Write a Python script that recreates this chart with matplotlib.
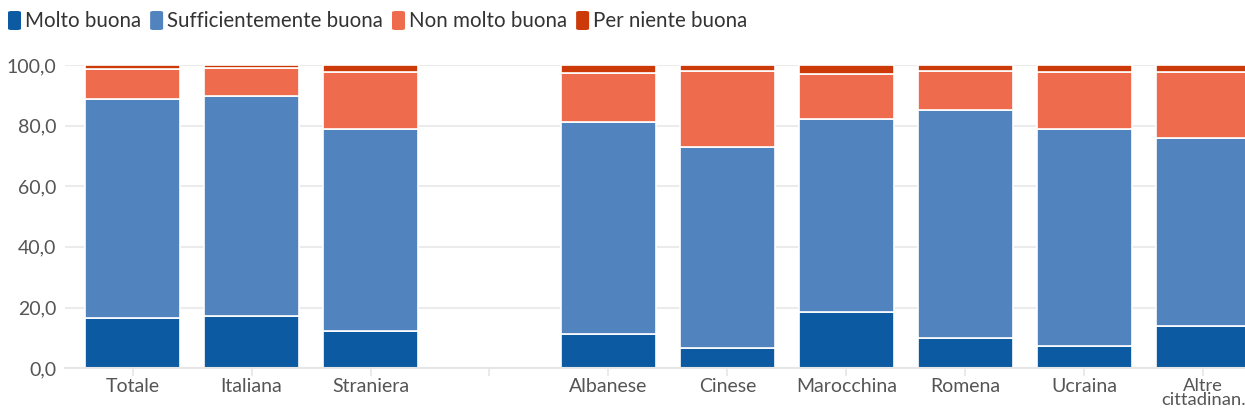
import matplotlib
matplotlib.use("Agg")
import matplotlib.pyplot as plt
import numpy as np
from matplotlib.patches import FancyBboxPatch

plt.rcParams["font.family"] = ["Lato", "DejaVu Sans"]

# Data (percentages), an empty slot separates the totals from the nationalities
categories = ["Totale", "Italiana", "Straniera", "",
              "Albanese", "Cinese", "Marocchina", "Romena", "Ucraina", "Altre\ncittadinan."]
molto_buona = [16.7, 17.2, 12.2, 0, 11.4, 6.5, 18.5, 10.0, 7.3, 13.8]
sufficientemente = [72.2, 72.7, 66.6, 0, 69.7, 66.4, 63.5, 75.1, 71.6, 62.0]
non_molto = [9.8, 9.0, 18.8, 0, 16.2, 25.2, 14.9, 12.8, 18.6, 21.7]
per_niente = [1.3, 1.1, 2.4, 0, 2.7, 1.9, 3.1, 2.1, 2.5, 2.5]

series = ["Molto buona", "Sufficientemente buona", "Non molto buona", "Per niente buona"]
colors = ["#0b5aa2", "#5183be", "#ee6c4d", "#cc3a0a"]

fig = plt.figure(figsize=(12.45, 4.16), dpi=100)
ax = fig.add_axes([0.052, 0.115, 0.948, 0.729])

x = np.arange(len(categories))
bottom = np.zeros(len(categories))
for vals, col in zip([molto_buona, sufficientemente, non_molto, per_niente], colors):
    vals = np.array(vals)
    ax.bar(x, vals, 0.8, bottom=bottom, color=col, edgecolor="white", linewidth=1.2, zorder=3)
    bottom += vals

ax.set_xlim(-0.57, 9.35)
ax.set_ylim(0, 100)
ax.set_yticks([0, 20, 40, 60, 80, 100])
ax.set_yticklabels(["0,0", "20,0", "40,0", "60,0", "80,0", "100,0"], fontsize=14, color="#555555")
ax.set_xticks(x)
ax.set_xticklabels(categories, fontsize=14, color="#555555", linespacing=0.82)
ax.tick_params(axis="y", length=0, pad=6)
ax.tick_params(axis="x", length=6, color="#e6e6e6", width=1.2, pad=1)
ax.grid(axis="y", color="#ebebeb", linewidth=1.5, zorder=0)
for s in ["top", "right", "left"]:
    ax.spines[s].set_visible(False)
ax.spines["bottom"].set_color("#e6e6e6")
ax.spines["bottom"].set_linewidth(1.5)
ax.spines["bottom"].set_zorder(4)
# last two-line label sits right at the canvas edge, shrink it a little
ax.get_xticklabels()[-1].set_fontsize(13.2)

# legend across the top with rounded swatches
xpos = 8
for name, col in zip(series, colors):
    sw = FancyBboxPatch((xpos / 1245, 1 - 30 / 416), 13 / 1245, 19 / 416,
                        boxstyle="round,pad=0,rounding_size=0.003",
                        transform=fig.transFigure, facecolor=col, edgecolor="none")
    fig.patches.append(sw)
    t = fig.text((xpos + 17) / 1245, 1 - 21 / 416, name, fontsize=14.8, color="#333333",
                 va="center", ha="left")
    fig.canvas.draw()
    bb = t.get_window_extent()
    xpos = bb.x1 + 9

fig.savefig("out.png", dpi=100, facecolor="white")
